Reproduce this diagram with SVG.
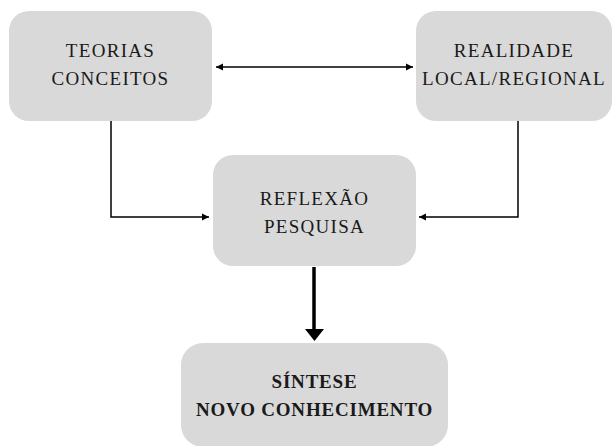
<svg xmlns="http://www.w3.org/2000/svg" width="612" height="446" viewBox="0 0 612 446">
<style>
.box{fill:#d9d9d9;}
.t{font-family:"Liberation Serif","Times New Roman",serif;font-size:19px;fill:#1a1a1a;text-anchor:middle;letter-spacing:1.3px;}
.b{font-weight:bold;letter-spacing:0.8px;}
.ln{fill:none;stroke:#000;stroke-width:1.5;}
.thick{fill:none;stroke:#000;stroke-width:3.5;}
</style>
<defs>
<marker id="ah" markerWidth="8" markerHeight="8" refX="7" refY="4" orient="auto" markerUnits="userSpaceOnUse"><path d="M0,0.5 L7,4 L0,7.5 Z" fill="#000"/></marker>
<marker id="ahs" markerWidth="8" markerHeight="8" refX="1" refY="4" orient="auto" markerUnits="userSpaceOnUse"><path d="M8,0.5 L1,4 L8,7.5 Z" fill="#000"/></marker>
</defs>
<g id="n1"><rect class="box" x="9" y="11" width="203" height="110" rx="20"/><text class="t" x="110.5" y="57">TEORIAS</text><text class="t" x="110.5" y="85">CONCEITOS</text></g>
<g id="n2"><rect class="box" x="416" y="11" width="196" height="110" rx="20"/><text class="t" x="514" y="57">REALIDADE</text><text class="t" x="514" y="85">LOCAL/REGIONAL</text></g>
<g id="n3"><rect class="box" x="213" y="155" width="203" height="111" rx="20"/><text class="t" x="314.5" y="205">REFLEXÃO</text><text class="t" x="314.5" y="233">PESQUISA</text></g>
<g id="n4"><rect class="box" x="181" y="343" width="267" height="104" rx="22"/><text class="t b" x="314.5" y="388">SÍNTESE</text><text class="t b" x="314.5" y="416">NOVO CONHECIMENTO</text></g>
<g id="connectors">
<path class="ln" d="M216,67 L413,67" marker-start="url(#ahs)" marker-end="url(#ah)"/>
<path class="ln" d="M111,121 L111,217 L209,217" marker-end="url(#ah)"/>
<path class="ln" d="M518,121 L518,217 L419,217" marker-end="url(#ah)"/>
<path class="thick" d="M314,267 L314,330"/>
<path d="M305,329 L324,329 L314.5,341 Z" fill="#000"/>
</g>
</svg>
